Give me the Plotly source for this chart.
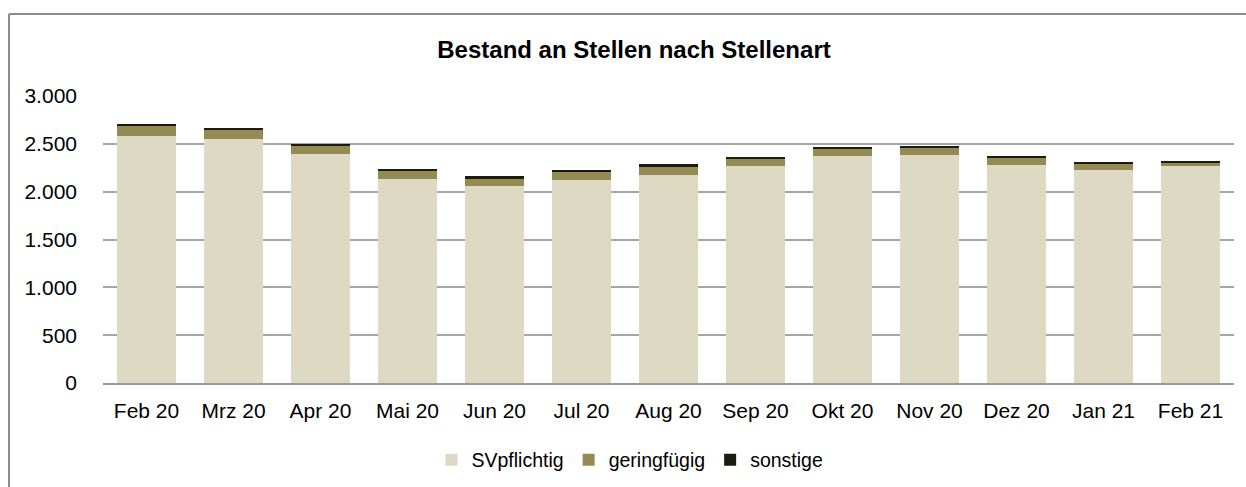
import plotly.graph_objects as go

categories = ["Feb 20", "Mrz 20", "Apr 20", "Mai 20", "Jun 20", "Jul 20", "Aug 20",
              "Sep 20", "Okt 20", "Nov 20", "Dez 20", "Jan 21", "Feb 21"]
sv_pflichtig = [2587, 2552, 2391, 2133, 2060, 2127, 2172, 2266, 2374, 2388, 2284, 2228, 2266]
geringfuegig = [97, 97, 91, 80, 77, 76, 83, 83, 74, 70, 73, 62, 42]
sonstige = [21, 21, 21, 29, 32, 28, 32, 18, 17, 17, 13, 14, 17]

series_names = ["SVpflichtig", "geringfügig", "sonstige"]
series_colors = ["#DDD9C3", "#948A54", "#1D1B10"]
series_values = [sv_pflichtig, geringfuegig, sonstige]

fig = go.Figure()
for name, color, vals in zip(series_names, series_colors, series_values):
    fig.add_trace(go.Bar(x=categories, y=vals, name=name,
                         marker=dict(color=color, line=dict(width=0))))

W, H = 1246, 487
L, R, T, B = 103, 12, 96, 104
pw, ph = W - L - R, H - T - B

fig.update_layout(
    width=W, height=H,
    barmode="stack", bargap=0.33,
    paper_bgcolor="white", plot_bgcolor="white",
    margin=dict(l=L, r=R, t=T, b=B),
    separators=",.",
    font=dict(family="Liberation Sans, Arial, sans-serif", size=21, color="#000000"),
    title=dict(text="<b>Bestand an Stellen nach Stellenart</b>",
               x=634 / W, xref="container", xanchor="center",
               y=1 - 50 / H, yref="container", yanchor="middle",
               font=dict(size=24, color="#000000")),
    legend=dict(orientation="h", x=630 / W, xref="container", xanchor="center",
                y=1 - 460 / H, yref="container", yanchor="middle",
                traceorder="normal", font=dict(size=19.5), itemwidth=30),
    xaxis=dict(showgrid=False, showline=True, linecolor="#9A9A9A", linewidth=2,
               ticks="", tickfont=dict(size=21), ticklabelstandoff=8),
    yaxis=dict(range=[0, 3000], dtick=500, tickformat=",d", showgrid=True,
               gridcolor="#A6A6A6", gridwidth=1.5, zeroline=False, showline=False,
               ticks="", ticklabelstandoff=25, tickfont=dict(size=21)),
)

# outer chart border (gray frame, top and left visible)
x0 = (9 - L) / pw
y0 = 1 + (T - 14) / ph
fig.add_shape(type="line", xref="paper", yref="paper", x0=x0, x1=x0, y0=y0, y1=-2,
              line=dict(color="#8C8C8C", width=2))
fig.add_shape(type="line", xref="paper", yref="paper", x0=x0, x1=1.2, y0=y0, y1=y0,
              line=dict(color="#8C8C8C", width=2))

fig.write_html("out.html", config={"displayModeBar": False},
               post_script="document.body.style.margin='0';document.body.style.padding='0';")
